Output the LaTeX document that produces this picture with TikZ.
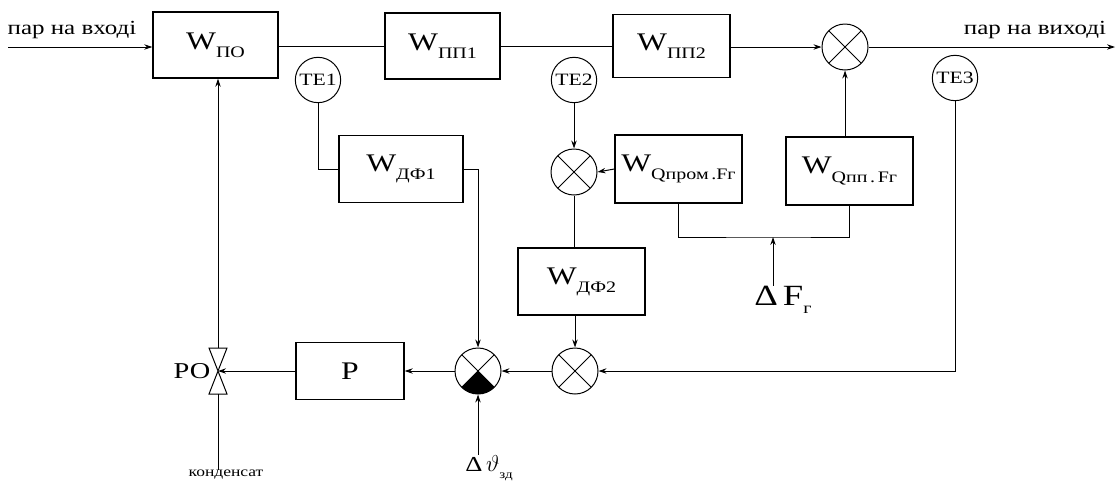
\documentclass[tikz,border=0pt]{standalone}
\usepackage{fontspec}
\setmainfont{Liberation Serif}[FakeStretch=1.25]
\usetikzlibrary{arrows.meta}

\tikzset{every picture/.style={line width=0.75pt}}
\tikzset{
  blok/.style={draw, line width=1pt, inner sep=0pt, font=\fontsize{19}{21}\selectfont},
  sumator/.style={draw, circle, minimum size=34.5pt, inner sep=0pt,
    path picture={\draw (path picture bounding box.south west) -- (path picture bounding box.north east)
      (path picture bounding box.north west) -- (path picture bounding box.south east);}},
  datchyk/.style={draw, circle, minimum size=34pt, inner sep=0pt, font=\fontsize{13}{14}\selectfont},
  napr/.style={-{Stealth[length=6pt,width=4pt]}},
  mitka/.style={inner sep=0pt, font=\fontsize{15}{17}\selectfont}
}
\newcommand{\Wind}[1]{W\raisebox{-0.7ex}{\fontsize{12}{13}\selectfont #1}}

\begin{document}
\begin{tikzpicture}[x=0.75pt,y=0.75pt,yscale=-1,xscale=1]
\useasboundingbox (0,0) rectangle (1117,483);

%Shape: Rectangle [W_PO]
\node[blok, minimum width=93.75pt, minimum height=49.5pt] (po) at (215.5,45) {\Wind{ПО}};
%Shape: Rectangle [W_PP1]
\node[blok, minimum width=86.25pt, minimum height=49.5pt] (pp1) at (442.5,46) {\Wind{ПП1}};
%Shape: Rectangle [W_PP2]
\node[blok, minimum width=87.75pt, minimum height=47.25pt] (pp2) at (671.5,46) {\Wind{ПП2}};
%Shape: Rectangle [W_DF1]
\node[blok, minimum width=93pt, minimum height=50.25pt] (df1) at (401,169) {\Wind{ДФ1}};
%Shape: Rectangle [W_Qprom]
\node[blok, minimum width=95.25pt, minimum height=51pt] (qprom) at (678.5,169) {\Wind{Qпром\,.Fг}};
%Shape: Rectangle [W_Qpp]
\node[blok, minimum width=95.25pt, minimum height=51pt] (qpp) at (849.5,171) {\Wind{Qпп\,.\,Fг}};
%Shape: Rectangle [W_DF2]
\node[blok, minimum width=95.25pt, minimum height=50.25pt] (df2) at (581.5,281.5) {\Wind{ДФ2}};
%Shape: Rectangle [P]
\node[blok, minimum width=81pt, minimum height=42.75pt, font=\fontsize{19}{21}\selectfont] (p) at (350,371) {Р};

%Flowchart: Summing Junction
\node[sumator] (s1) at (845,47) {};
\node[sumator] (s2) at (574,172) {};
\node[sumator] (s3) at (575,371) {};
\node[sumator] (s4) at (478,371) {};
\fill (s4.center) -- plot[domain=45:135, samples=13] ({478+23*cos(\x)},{371+23*sin(\x)}) -- cycle;

%Shape: Circle [sensors]
\node[datchyk] (te1) at (318,80) {ТЕ1};
\node[datchyk] (te2) at (574,80) {ТЕ2};
\node[datchyk] (te3) at (955,78) {ТЕ3};

%Valve
\coordinate (ro) at (218,371);
\coordinate (rotop) at (218,348);
\coordinate (robot) at (218,394);
\draw (rotop) ++(-9,0) -- ++(18,0) -- ++(-18,46) -- ++(18,0) -- cycle;
\node[mitka, font=\fontsize{17}{19}\selectfont] (rolab) at (192,371) {РО};

%Labels
\coordinate (vhid) at (8,47);
\coordinate (vyhid) at (1115,47);
\node[mitka] (lvhid) at (72,30) {пар на вході};
\node[mitka] (lvyhid) at (1035,30) {пар на виході};
\node[mitka, font=\fontsize{10.5}{12}\selectfont] (kond) at (226,475) {конденсат};
\node[mitka, font=\fontsize{22}{24}\selectfont] (dF) at (783,300) {Δ\,F\raisebox{-0.6ex}{\fontsize{12}{13}\selectfont г}};
\node[mitka, font=\fontsize{16}{18}\selectfont] (dT) at (489,468) {Δ\,$\vartheta$\raisebox{-0.7ex}{\fontsize{9}{10}\selectfont зд}};
\coordinate (vuzol) at (773,237);

%Straight Lines
\draw[napr] (vhid) -- (vhid -| po.west);
\draw (po.east |- pp1) -- (pp1.west);
\draw (pp1.east) -- (pp2.west);
\draw[napr] (pp2.east |- s1) -- (s1.west);
\draw[napr] (s1.east) -- (vyhid);
\draw (te1.south) |- (df1.west);
\draw[napr] (df1.east) -| (s4.north);
\draw[napr] (te2.south) -- (s2.north);
\draw[napr] (qprom.west) -- (s2.east);
\draw (s2.south) -- (s2.south |- df2.north);
\draw[napr] (s3.north |- df2.south) -- (s3.north);
\draw[napr] (te3.south) |- (s3.east);
\draw[napr] (s3.west) -- (s4.east);
\draw[napr] (s4.west) -- (p.east);
\draw[napr] (p.west) -- (ro);
\draw[napr] (rotop) -- (rotop |- po.south);
\draw (robot) -- (robot |- kond.north);
\draw (qprom.south) |- (vuzol) -| (qpp.south);
\draw[napr] (vuzol |- dF.north) -- (vuzol);
\draw[napr] (s1 |- qpp.north) -- (s1.south);
\draw[napr] (s4.south |- dT.north) -- (s4.south);

\end{tikzpicture}
\end{document}
